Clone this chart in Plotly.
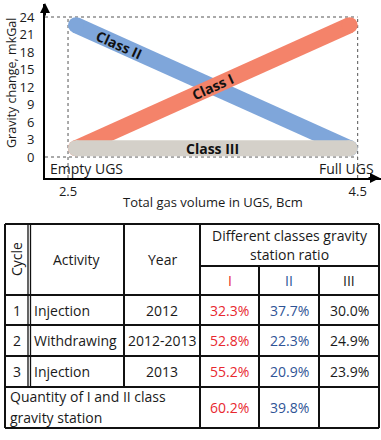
import plotly.graph_objects as go

# ---------------- data ----------------
class_names = ["Class II", "Class I", "Class III"]
x_start, x_end = 2.555, 4.445
y_start = [22.6, 1.5, 1.5]     # Class II, Class I, Class III
y_end = [1.5, 22.6, 1.5]
line_colors = ["#7fa6da", "#f4836a", "#d4d0c9"]

y_ticks = [0, 3, 6, 9, 12, 15, 18, 21, 24]
x_ticks = [2.5, 4.5]
x_tick_text = ["2.5", "4.5"]
x_end_labels = ["Empty UGS", "Full UGS"]
x_title = "Total gas volume in UGS, Bcm"
y_title = "Gravity change, mkGal"

# table data
header_cols = ["Cycle", "Activity", "Year"]
header_group = ["Different classes gravity", "station ratio"]
class_cols = ["I", "II", "III"]
cycles = [1, 2, 3]
activities = ["Injection", "Withdrawing", "Injection"]
years = ["2012", "2012-2013", "2013"]
ratio_I = [32.3, 52.8, 55.2]
ratio_II = [37.7, 22.3, 20.9]
ratio_III = [30.0, 24.9, 23.9]
total_label = ["Quantity of I and II class", "gravity station"]
total_vals = [60.2, 39.8]

W, H = 381, 440
FONT = "Open Sans, Liberation Sans, sans-serif"
TXT = "#1a1a1a"
RED_T = "#e8282f"
BLUE_T = "#2f5496"

def px(x):
    return x / W

def py(y):
    return 1 - y / H

fig = go.Figure()

for i, name in enumerate(class_names):
    fig.add_trace(go.Scatter(
        x=[x_start, x_end], y=[y_start[i], y_end[i]],
        mode="lines+markers", name=name,
        line=dict(color=line_colors[i], width=16),
        marker=dict(color=line_colors[i], size=16, line=dict(width=0)),
        hoverinfo="skip", showlegend=False, cliponaxis=False,
    ))

xr = [2.341, 4.661]
yr = [-3.6, 26.23]

# dotted guide lines
dot = dict(color="#555555", width=1, dash="dot")
for yv in [0, 24]:
    fig.add_shape(type="line", xref="x", yref="y", x0=xr[0], x1=4.5, y0=yv, y1=yv,
                  line=dot, layer="below")
for xv in [2.5, 4.5]:
    fig.add_shape(type="line", xref="x", yref="y", x0=xv, x1=xv, y0=yr[0], y1=24,
                  line=dot, layer="below")

# class labels along the bands
label_pos = [(2.85, 19.3, 24.2), (3.5, 12.0, -24.2), (3.5, 1.5, 0)]
for name, (lx, ly, ang) in zip(class_names, label_pos):
    fig.add_annotation(x=lx, y=ly, xref="x", yref="y", text="<b>" + name + "</b>",
                       showarrow=False, textangle=ang,
                       font=dict(family=FONT, size=14, color="#111111", weight=800))

# axis arrows
fig.add_annotation(x=px(45), y=py(3), xref="paper", yref="paper", text="",
                   showarrow=True, ax=0, ay=14, arrowhead=2, arrowwidth=2,
                   arrowsize=1, arrowcolor="black", standoff=0)
fig.add_annotation(x=px(381), y=py(178), xref="paper", yref="paper", text="",
                   showarrow=True, ax=-14, ay=0, arrowhead=2, arrowwidth=2,
                   arrowsize=1, arrowcolor="black", standoff=0)

# end labels and titles
fig.add_annotation(x=px(48), y=py(168), xref="paper", yref="paper", text=x_end_labels[0],
                   showarrow=False, xanchor="left", yanchor="middle",
                   font=dict(family=FONT, size=14, color=TXT))
fig.add_annotation(x=px(376), y=py(168), xref="paper", yref="paper", text=x_end_labels[1],
                   showarrow=False, xanchor="right", yanchor="middle",
                   font=dict(family=FONT, size=14, color=TXT))
fig.add_annotation(x=px(213), y=py(202), xref="paper", yref="paper", text=x_title,
                   showarrow=False, xanchor="center", yanchor="middle",
                   font=dict(family=FONT, size=13, color=TXT))
fig.add_annotation(x=px(12), y=py(83), xref="paper", yref="paper", text=y_title,
                   showarrow=False, textangle=-90, xanchor="center", yanchor="middle",
                   font=dict(family=FONT, size=12.5, color=TXT))

# ---------------- table ----------------
tl = dict(color="#111111", width=2)
tl1 = dict(color="#111111", width=1.3)
L, R, T, B = 5, 379, 224, 428
xc = [28, 30.5, 124, 200, 259, 319]
ry = [266, 295, 325, 356, 387]

def hline(x0, x1, y, ln=tl):
    fig.add_shape(type="line", xref="paper", yref="paper",
                  x0=px(x0), x1=px(x1), y0=py(y), y1=py(y), line=ln)

def vline(x, y0, y1, ln=tl):
    fig.add_shape(type="line", xref="paper", yref="paper",
                  x0=px(x), x1=px(x), y0=py(y0), y1=py(y1), line=ln)

hline(L, R, T)
hline(L, R, B)
vline(L, T, B)
vline(R, T, B)
vline(xc[0], T, ry[4], tl1)
vline(xc[1], T, ry[4], tl1)
vline(xc[2], T, ry[4])
vline(xc[3], T, B)
vline(xc[4], ry[0], B)
vline(xc[5], ry[0], B)
hline(xc[3], R, ry[0])
for yy in ry[1:]:
    hline(L, R, yy)

def txt(x, y, s, color=TXT, xanchor="center", angle=0):
    fig.add_annotation(x=px(x), y=py(y), xref="paper", yref="paper", text=s,
                       showarrow=False, xanchor=xanchor, yanchor="middle",
                       textangle=angle, font=dict(family=FONT, size=14, color=color))

hy = (T + ry[1]) / 2
txt(16.5, hy, header_cols[0], angle=-90)
txt((xc[1] + xc[2]) / 2, hy, header_cols[1])
txt((xc[2] + xc[3]) / 2, hy, header_cols[2])
txt((xc[3] + R) / 2, 235, header_group[0])
txt((xc[3] + R) / 2, 254, header_group[1])
col_cx = [(xc[3] + xc[4]) / 2, (xc[4] + xc[5]) / 2, (xc[5] + R) / 2]
col_colors = [RED_T, BLUE_T, TXT]
sub_y = (ry[0] + ry[1]) / 2
for c, s, colr in zip(col_cx, class_cols, col_colors):
    txt(c, sub_y, s, colr)

for i in range(len(cycles)):
    yy = (ry[1 + i] + ry[2 + i]) / 2
    txt(16.5, yy, str(cycles[i]))
    txt(32, yy, activities[i], xanchor="left")
    txt((xc[2] + xc[3]) / 2, yy, years[i])
    txt(col_cx[0], yy, f"{ratio_I[i]:.1f}%", RED_T)
    txt(col_cx[1], yy, f"{ratio_II[i]:.1f}%", BLUE_T)
    txt(col_cx[2], yy, f"{ratio_III[i]:.1f}%", TXT)

txt(8, 396, total_label[0], xanchor="left")
txt(8, 417, total_label[1], xanchor="left")
ty = (ry[4] + B) / 2
txt(col_cx[0], ty, f"{total_vals[0]:.1f}%", RED_T)
txt(col_cx[1], ty, f"{total_vals[1]:.1f}%", BLUE_T)

fig.update_layout(
    width=W, height=H,
    margin=dict(l=0, r=0, t=0, b=0),
    paper_bgcolor="white", plot_bgcolor="white",
    showlegend=False,
    xaxis=dict(domain=[px(45), 1], range=xr, tickvals=x_ticks, ticktext=x_tick_text,
               showgrid=False, zeroline=False, showline=True, linecolor="black",
               linewidth=2, ticks="", ticklabelstandoff=0,
               tickfont=dict(family=FONT, size=13, color=TXT), fixedrange=True),
    yaxis=dict(domain=[py(178), py(4)], range=yr, tickvals=y_ticks,
               showgrid=False, zeroline=False, showline=True, linecolor="black",
               linewidth=2, ticks="", ticklabelstandoff=6,
               tickfont=dict(family=FONT, size=13, color=TXT), fixedrange=True),
)

fig.write_html("out.html", config={"displayModeBar": False},
               post_script="document.body.style.margin='0px';document.body.style.overflow='hidden';")
